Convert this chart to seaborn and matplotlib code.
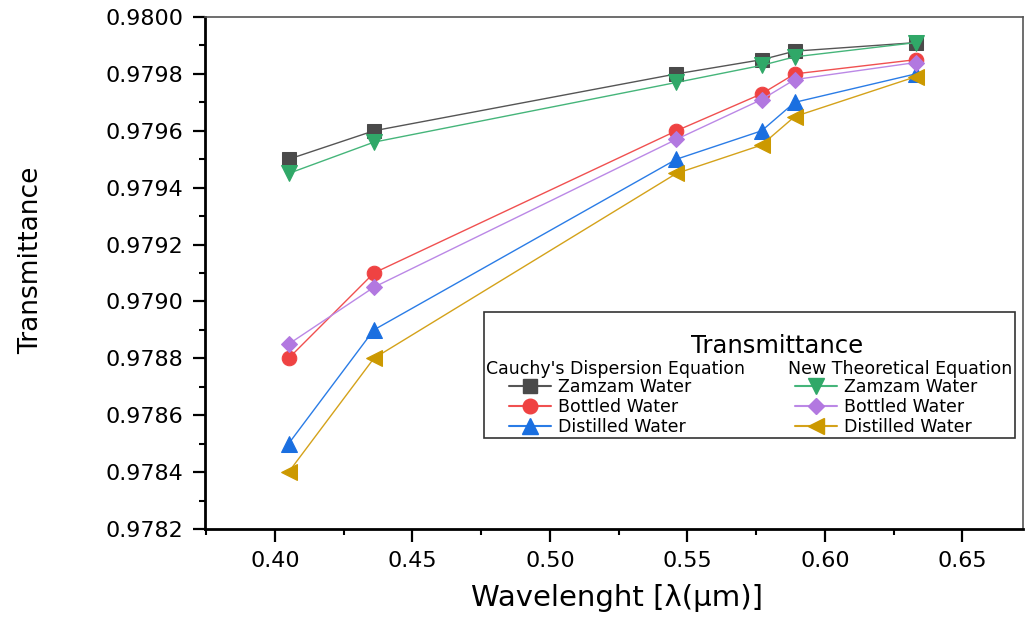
import matplotlib
matplotlib.use("Agg")
import matplotlib.pyplot as plt
import seaborn as sns
import pandas as pd
from matplotlib.lines import Line2D
from matplotlib.patches import Rectangle
from matplotlib.ticker import MultipleLocator, FormatStrFormatter

# ---- data ----
wavelength = [0.405, 0.436, 0.546, 0.577, 0.589, 0.633]
cauchy_zamzam = [0.97950, 0.97960, 0.97980, 0.97985, 0.97988, 0.97991]
cauchy_bottled = [0.97880, 0.97910, 0.97960, 0.97973, 0.97980, 0.97985]
cauchy_distilled = [0.97850, 0.97890, 0.97950, 0.97960, 0.97970, 0.97980]
new_zamzam = [0.97945, 0.97956, 0.97977, 0.97983, 0.97986, 0.97991]
new_bottled = [0.97885, 0.97905, 0.97957, 0.97971, 0.97978, 0.97984]
new_distilled = [0.97840, 0.97880, 0.97945, 0.97955, 0.97965, 0.97979]
water_labels = ["Zamzam Water", "Bottled Water", "Distilled Water"]
group_labels = ["Cauchy's Dispersion Equation", "New Theoretical Equation"]

sns.set_theme(style="ticks")
plt.rcParams["font.family"] = ["DejaVu Sans"]
plt.rcParams["text.color"] = "black"
plt.rcParams["axes.labelcolor"] = "black"

fig = plt.figure(figsize=(10.25, 6.19), dpi=100)
ax = fig.add_axes([0.2, 0.1454, 0.798, 0.8271])

series = [
    (cauchy_zamzam, "s", "#4a4a4a", "#555555", 9.5),
    (cauchy_bottled, "o", "#ef4242", "#f05050", 10.5),
    (cauchy_distilled, "^", "#1a6fe0", "#2a7ce6", 11),
    (new_zamzam, "v", "#30a868", "#45b57a", 11),
    (new_bottled, "D", "#b278e0", "#bb88e6", 8.5),
    (new_distilled, "<", "#cc9900", "#d4a21a", 11),
]

for vals, m, mc, lc, ms in series:
    df = pd.DataFrame({"wl": wavelength, "T": vals})
    sns.lineplot(data=df, x="wl", y="T", ax=ax, color=lc, linewidth=1,
                 marker=m, markersize=ms, markerfacecolor=mc,
                 markeredgecolor=mc, legend=False)

ax.set_xlim(0.3746, 0.672)
ax.set_ylim(0.9782, 0.9800)
ax.xaxis.set_major_locator(MultipleLocator(0.05))
ax.xaxis.set_minor_locator(MultipleLocator(0.025))
ax.yaxis.set_major_locator(MultipleLocator(0.0002))
ax.yaxis.set_minor_locator(MultipleLocator(0.0001))
ax.xaxis.set_major_formatter(FormatStrFormatter("%.2f"))
ax.yaxis.set_major_formatter(FormatStrFormatter("%.4f"))

for s in ["left", "bottom"]:
    ax.spines[s].set_color("black")
    ax.spines[s].set_linewidth(2)
for s in ["top", "right"]:
    ax.spines[s].set_color("#555555")
    ax.spines[s].set_linewidth(1.2)

ax.tick_params(axis="both", which="major", direction="out", length=9,
               width=1.6, color="black", labelsize=16, labelcolor="black",
               pad=6.5)
ax.tick_params(axis="both", which="minor", direction="out", length=4.5,
               width=1.5, color="black")
ax.tick_params(axis="y", which="both", right=False)
ax.tick_params(axis="x", which="both", top=False)

ax.set_xlabel("Wavelenght [λ(μm)]", fontsize=21, color="black")
ax.set_ylabel("Transmittance", fontsize=19, color="black")
ax.yaxis.set_label_coords(-0.197, 0.525)
ax.xaxis.set_label_coords(0.504, -0.108)

# ---- legend ----
W, H = 1025.0, 619.0
def fx(px):
    return px / W
def fy(py):
    return 1 - py / H

rect = Rectangle((fx(484), fy(438)), fx(1015) - fx(484), fy(312) - fy(438),
                 transform=fig.transFigure, facecolor="white",
                 edgecolor="#333333", linewidth=1.2, zorder=4)
ax.add_patch(rect)
ax.text(fx(777), fy(346), "Transmittance", transform=fig.transFigure,
        fontsize=17.5, ha="center", va="center", zorder=6, color="black")
ax.text(fx(486), fy(369), group_labels[0], transform=fig.transFigure,
        fontsize=12.5, ha="left", va="center", zorder=6, color="black")
ax.text(fx(788), fy(369), group_labels[1], transform=fig.transFigure,
        fontsize=12.5, ha="left", va="center", zorder=6, color="black")

def make_handles(group):
    hs = []
    for vals, m, mc, lc, ms in group:
        hs.append(Line2D([], [], color=lc, alpha=1, linewidth=1.5, marker=m,
                         markersize=ms, markerfacecolor=mc,
                         markeredgecolor=mc))
    return hs

leg_kw = dict(loc="upper left", bbox_transform=fig.transFigure,
              frameon=False, borderpad=0, borderaxespad=0, fontsize=12.5,
              handlelength=2.4, handletextpad=0.4, labelspacing=0.12,
              labelcolor="black")
leg1 = ax.legend(make_handles(series[:3]), water_labels,
                 bbox_to_anchor=(fx(509), fy(378)), **leg_kw)
leg1.set_zorder(6)
ax.add_artist(leg1)
leg2 = ax.legend(make_handles(series[3:]), water_labels,
                 bbox_to_anchor=(fx(795), fy(378)), **leg_kw)
leg2.set_zorder(6)

fig.savefig("out.png", dpi=100)
